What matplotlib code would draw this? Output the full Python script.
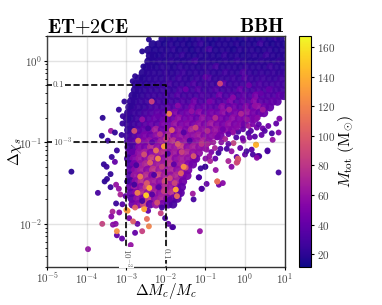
import numpy as np
import matplotlib
matplotlib.use('Agg')
import matplotlib.pyplot as plt

plt.rcParams['font.family'] = ['cmr10', 'DejaVu Serif']
plt.rcParams['mathtext.fontset'] = 'cm'
plt.rcParams['axes.formatter.use_mathtext'] = True
plt.rcParams['axes.unicode_minus'] = False

# values, log10 of dMc/Mc and dchi_s, Mtot in Msun
body_chi = [0.27, 0.20, 0.13, 0.06, -0.01, -0.08, -0.15, -0.22, -0.29, -0.36,
            -0.43, -0.50, -0.57, -0.64, -0.71, -0.78, -0.85, -0.92, -0.99, -1.06,
            -1.13, -1.20, -1.27, -1.34, -1.41, -1.48, -1.55, -1.62, -1.69, -1.76]
body_mc = [
    [-2.08, -1.93, -1.79, -1.62, -1.47, -1.33, -1.18, -1.02, -0.88, -0.72, -0.58, -0.43, -0.27, -0.13, 0.03, 0.17, 0.32, 0.47, 0.63, 0.78, 0.9],
    [-2.33, -2.18, -2.02, -1.87, -1.72, -1.56, -1.41, -1.26, -1.11, -0.95, -0.81, -0.66, -0.5, -0.34, -0.2, -0.05, 0.1, 0.25, 0.4, 0.56, 0.7, 0.85, 0.98],
    [-2.44, -2.27, -2.11, -1.96, -1.8, -1.66, -1.49, -1.34, -1.19, -1.04, -0.9, -0.73, -0.58, -0.42, -0.28, -0.12, 0.02, 0.18, 0.33, 0.48, 0.64, 0.79, 0.94],
    [-2.4, -2.3, -2.16, -2.03, -1.88, -1.73, -1.57, -1.43, -1.27, -1.12, -0.96, -0.82, -0.66, -0.5, -0.36, -0.21, -0.05, 0.09, 0.25, 0.41, 0.55, 0.71, 0.86, 0.99],
    [-2.44, -2.31, -2.17, -2.01, -1.86, -1.7, -1.55, -1.39, -1.25, -1.09, -0.94, -0.79, -0.64, -0.49, -0.33, -0.18, -0.03, 0.13, 0.27, 0.43, 0.58, 0.72, 0.88, 0.98],
    [-2.48, -2.38, -2.24, -2.09, -1.93, -1.79, -1.63, -1.48, -1.33, -1.17, -1.03, -0.87, -0.72, -0.57, -0.41, -0.26, -0.11, 0.04, 0.19, 0.35, 0.5, 0.65, 0.8, 0.95],
    [-2.58, -2.45, -2.31, -2.15, -2.0, -1.85, -1.7, -1.55, -1.4, -1.24, -1.09, -0.95, -0.79, -0.64, -0.48, -0.34, -0.18, -0.03, 0.12, 0.27, 0.42, 0.58, 0.73, 0.87, 0.99],
    [-2.68, -2.57, -2.41, -2.27, -2.11, -1.96, -1.81, -1.66, -1.5, -1.36, -1.2, -1.05, -0.9, -0.75, -0.6, -0.44, -0.29, -0.14, 0.01, 0.16, 0.31, 0.46, 0.62, 0.77, 0.92],
    [-2.76, -2.66, -2.5, -2.36, -2.2, -2.05, -1.9, -1.75, -1.59, -1.44, -1.29, -1.14, -0.99, -0.83, -0.68, -0.53, -0.38, -0.23, -0.07, 0.08, 0.23, 0.38, 0.53, 0.69, 0.84, 0.98],
    [-2.78, -2.68, -2.53, -2.39, -2.24, -2.08, -1.93, -1.78, -1.63, -1.48, -1.32, -1.17, -1.02, -0.87, -0.72, -0.56, -0.41, -0.26, -0.11, 0.04, 0.2, 0.35, 0.5, 0.65, 0.8, 0.93],
    [-2.84, -2.75, -2.6, -2.45, -2.3, -2.15, -2.0, -1.84, -1.69, -1.54, -1.39, -1.24, -1.08, -0.93, -0.78, -0.63, -0.48, -0.32, -0.17, -0.02, 0.13, 0.28, 0.44, 0.59, 0.74, 0.88, 0.98],
    [-2.88, -2.78, -2.63, -2.49, -2.33, -2.18, -2.03, -1.88, -1.72, -1.57, -1.42, -1.27, -1.12, -0.96, -0.81, -0.66, -0.51, -0.36, -0.2, -0.05, 0.1, 0.25, 0.4, 0.55, 0.7, 0.82],
    [-2.92, -2.84, -2.69, -2.54, -2.39, -2.24, -2.09, -1.93, -1.78, -1.63, -1.48, -1.33, -1.17, -1.02, -0.87, -0.72, -0.57, -0.41, -0.26, -0.11, 0.04, 0.19, 0.34, 0.5, 0.63],
    [-2.95, -2.82, -2.67, -2.52, -2.37, -2.21, -2.06, -1.91, -1.76, -1.61, -1.45, -1.3, -1.15, -1.0, -0.85, -0.69, -0.54, -0.39, -0.24, -0.09, 0.06, 0.22, 0.37, 0.48],
    [-2.98, -2.88, -2.73, -2.58, -2.43, -2.27, -2.12, -1.97, -1.82, -1.67, -1.51, -1.36, -1.21, -1.06, -0.91, -0.75, -0.6, -0.45, -0.3, -0.15, 0.0, 0.14, 0.25],
    [-2.96, -2.83, -2.68, -2.53, -2.38, -2.22, -2.07, -1.92, -1.77, -1.62, -1.46, -1.31, -1.16, -1.01, -0.86, -0.7, -0.55, -0.4, -0.25, -0.1, 0.0],
    [-2.95, -2.86, -2.71, -2.56, -2.41, -2.25, -2.1, -1.95, -1.8, -1.65, -1.49, -1.34, -1.19, -1.04, -0.89, -0.73, -0.58, -0.43, -0.32],
    [-2.97, -2.84, -2.69, -2.54, -2.39, -2.23, -2.08, -1.93, -1.78, -1.63, -1.47, -1.32, -1.17, -1.02, -0.87, -0.72, -0.62],
    [-2.95, -2.87, -2.72, -2.57, -2.42, -2.26, -2.11, -1.96, -1.81, -1.66, -1.5, -1.35, -1.2, -1.05, -0.92],
    [-2.94, -2.82, -2.67, -2.52, -2.37, -2.21, -2.06, -1.91, -1.76, -1.61, -1.45, -1.3, -1.15, -1.02],
    [-2.93, -2.83, -2.68, -2.53, -2.38, -2.22, -2.07, -1.92, -1.77, -1.62, -1.46, -1.31, -1.17],
    [-2.95, -2.81, -2.66, -2.51, -2.36, -2.2, -2.05, -1.9, -1.75, -1.6, -1.44, -1.29, -1.24],
    [-2.92, -2.8, -2.65, -2.5, -2.35, -2.19, -2.04, -1.89, -1.74, -1.59, -1.43, -1.32],
    [-2.9, -2.77, -2.62, -2.47, -2.32, -2.16, -2.01, -1.86, -1.71, -1.56, -1.44],
    [-2.91, -2.79, -2.64, -2.49, -2.34, -2.18, -2.03, -1.88, -1.73, -1.58, -1.46],
    [-2.89, -2.76, -2.61, -2.46, -2.31, -2.15, -2.0, -1.85, -1.7, -1.57],
    [-2.91, -2.78, -2.63, -2.48, -2.33, -2.17, -2.02, -1.87, -1.72, -1.6],
    [-2.88, -2.75, -2.6, -2.45, -2.3, -2.14, -1.99, -1.84, -1.69, -1.63],
    [-2.86, -2.72, -2.57, -2.42, -2.27, -2.11, -1.96, -1.81, -1.71],
    [-2.84, -2.7, -2.55, -2.4, -2.25, -2.09, -1.94, -1.82],
]
body_mt = [
    [18, 17, 19, 16, 18, 17, 22, 17, 19, 16, 18, 20, 17, 16, 22, 18, 17, 19, 16, 24, 18],
    [17, 18, 16, 20, 17, 19, 16, 18, 24, 17, 16, 19, 18, 17, 20, 16, 18, 17, 26, 18, 16, 19, 17],
    [18, 17, 19, 18, 22, 17, 18, 16, 20, 18, 28, 17, 19, 18, 16, 21, 18, 20, 17, 18, 21, 17, 19],
    [19, 18, 17, 20, 18, 19, 24, 18, 17, 20, 18, 19, 17, 24, 18, 20, 17, 19, 21, 18, 26, 20, 18, 19],
    [19, 18, 20, 18, 22, 19, 18, 20, 27, 18, 20, 19, 18, 21, 19, 24, 20, 18, 19, 22, 20, 19, 23, 20],
    [19, 20, 18, 22, 20, 19, 24, 20, 21, 19, 23, 22, 30, 20, 21, 22, 20, 24, 21, 22, 20, 27, 22, 21],
    [19, 20, 21, 20, 23, 20, 22, 26, 21, 23, 21, 25, 22, 21, 28, 23, 22, 33, 24, 21, 24, 22, 25, 22, 24],
    [20, 19, 21, 22, 21, 24, 22, 28, 23, 22, 26, 24, 32, 23, 25, 24, 28, 24, 35, 26, 24, 27, 25, 24, 28],
    [20, 21, 20, 22, 24, 23, 30, 24, 25, 24, 33, 25, 27, 26, 25, 38, 26, 28, 27, 29, 26, 32, 28, 27, 30, 28],
    [20, 21, 22, 24, 23, 26, 25, 24, 32, 26, 27, 36, 26, 28, 34, 27, 30, 28, 42, 30, 29, 33, 30, 36, 31, 30],
    [21, 20, 22, 24, 26, 25, 28, 27, 35, 27, 30, 28, 33, 30, 29, 45, 31, 35, 30, 38, 32, 48, 33, 35, 32, 40, 34],
    [21, 22, 24, 26, 24, 30, 27, 29, 28, 34, 30, 45, 32, 31, 40, 33, 36, 50, 34, 42, 36, 55, 38, 36, 40, 38],
    [22, 21, 25, 24, 28, 32, 30, 36, 33, 38, 34, 48, 36, 42, 38, 35, 55, 40, 46, 38, 52, 42, 60, 45, 40],
    [22, 25, 24, 30, 33, 38, 36, 42, 52, 40, 46, 38, 55, 42, 48, 45, 58, 40, 50, 46, 60, 48, 42, 45],
    [24, 22, 26, 32, 35, 42, 38, 48, 44, 58, 46, 50, 42, 60, 48, 52, 50, 44, 58, 50, 52, 46, 50],
    [23, 26, 28, 36, 42, 38, 50, 46, 62, 50, 54, 48, 58, 50, 65, 52, 48, 60, 50, 54, 45],
    [24, 25, 34, 40, 48, 68, 44, 56, 52, 60, 50, 72, 54, 58, 52, 62, 54, 56, 52],
    [26, 30, 38, 50, 45, 58, 54, 72, 52, 62, 56, 58, 66, 54, 56, 60, 48],
    [28, 34, 42, 52, 60, 48, 66, 58, 78, 56, 62, 52, 58, 70, 56],
    [30, 30, 52, 48, 75, 58, 56, 64, 62, 85, 56, 68, 58, 58],
    [35, 42, 58, 68, 52, 64, 75, 58, 66, 54, 72, 60, 58],
    [28, 52, 64, 56, 85, 62, 58, 72, 56, 66, 60, 54, 45],
    [30, 48, 60, 72, 58, 66, 64, 78, 60, 68, 54, 45],
    [38, 56, 68, 56, 80, 64, 60, 72, 58, 66, 50],
    [32, 62, 58, 75, 54, 88, 66, 60, 72, 56, 48],
    [30, 56, 78, 62, 66, 58, 92, 60, 68, 45],
    [42, 66, 58, 88, 62, 56, 74, 64, 54, 40],
    [40, 54, 74, 60, 68, 58, 66, 78, 50, 38],
    [36, 58, 48, 82, 58, 70, 56, 45, 35],
    [45, 54, 88, 40, 64, 48, 35, 30],
]

# single points around the edge of the cloud
edge_mc = [-4.39, -3.72, -3.97, -3.61, -2.89, -3.11, -3.24, -3.24, -3.34, -3.27, -2.78, -2.6, -2.43, -2.72, -2.48,
           -1.84, -1.94, -2.13, -2.02, 0.85, -1.14, -1.82, -1.3, -1.32, -1.1, -0.97, -0.66, -0.56, -0.7, -0.74,
           -1.0, -1.12, -1.17, -0.42, -0.19, -0.17, -0.34, -0.67, 0.57, 0.31, 0.36, 0.0, 0.2, -0.21,
           -2.43, -2.6, -2.57, -2.78, -2.84, -3.05, -3.19, -3.6, -3.62, -3.47, -3.39, -3.29, -3.12, -3.1, -3.09, -2.95,
           -3.24, -3.37, -3.57, -3.5, -3.29, -3.4, -3.55, -3.49, -3.4, -3.26, -3.19, -3.15, -2.98, -3.02, -3.26, -3.1,
           -3.35, -3.38, -3.18, -3.0, -2.93, -2.83,
           0.85, 0.70, 0.57, 0.28, 0.34, 0.3, 0.17, 0.04, -0.18, -0.21, -0.34, -0.46, -0.29, -0.04, 0.09, 0.42, 0.68,
           0.3, 0.59, 0.79, 0.87, -0.17, -0.06, -0.88, -0.76, -0.97, -1.16, -1.09, -1.01,
           -0.2, -0.05, 0.1, 0.2, 0.35, 0.45, 0.15, -0.3, -0.42, -0.5, -0.56, -0.6, -0.7, -0.8, -0.85, -0.62, -0.42, -0.22,
           -0.12, 0.12, 0.25, 0.5, -0.9, -1.0, -0.75, -0.95]
edge_chi = [-1.36, -1.62, -2.31, -2.0, -2.26, -2.18, -2.14, -2.09, -2.01, -2.0, -2.11, -2.09, -2.03, -2.0, -1.94,
            -2.04, -2.0, -1.87, -1.93, -1.37, -2.09, -2.04, -1.7, -1.63, -1.57, -1.51, -1.52, -1.5, -1.48, -1.34,
            -1.3, -1.32, -1.43, -1.23, -1.24, -1.21, -1.3, -1.13, -1.1, -1.17, -1.17, -1.15, -1.15, -1.18,
            0.26, 0.115, -0.07, -0.19, -0.25, -0.5, -0.6, -0.7, -0.92, -0.98, -0.86, -0.88, -0.91, -0.77, -0.68, -0.64,
            -1.1, -1.18, -1.27, -1.3, -1.24, -1.39, -1.48, -1.45, -1.55, -1.52, -1.57, -1.64, -1.48, -1.66, -1.75, -1.76,
            -1.85, -1.91, -1.86, -1.83, -1.93, -1.97,
            -0.88, -0.97, -1.11, -1.03, -1.17, -1.19, -1.09, -1.11, -1.2, -1.25, -1.11, -1.08, -1.01, -0.98, -0.89, -0.91, -0.89,
            -0.82, -0.8, -0.77, -0.71, -0.87, -0.95, -1.23, -1.07, -1.09, -1.43, -1.57, -1.3,
            -0.82, -0.84, -0.8, -0.78, -0.78, -0.83, -0.86, -0.88, -0.9, -0.96, -0.84, -1.0, -0.94, -1.0, -1.12, -1.08, -1.02, -0.94,
            -1.07, -0.94, -0.93, -0.86, -1.17, -1.2, -1.2, -1.02]
edge_mt = [20, 30, 60, 85, 60, 40, 40, 125, 55, 55, 40, 85, 120, 40, 110,
           40, 40, 85, 30, 30, 60, 30, 30, 65, 45, 40, 45, 55, 110, 60,
           25, 25, 35, 70, 100, 80, 55, 25, 30, 60, 30, 40, 30, 40,
           18, 18, 18, 20, 20, 22, 22, 20, 20, 25, 65, 22, 24, 24, 24, 24,
           24, 24, 22, 25, 40, 22, 20, 22, 25, 60, 60, 70, 25, 40, 25, 35,
           70, 55, 55, 130, 50, 100,
           50, 60, 30, 140, 30, 55, 35, 30, 100, 90, 60, 30, 85, 55, 30, 40, 30,
           45, 45, 40, 50, 30, 45, 70, 70, 60, 30, 30, 25,
           55, 40, 65, 50, 38, 45, 35, 60, 42, 70, 45, 55, 48, 65, 50, 35, 38, 32,
           40, 45, 35, 35, 60, 55, 40, 70]

# mottled spots on top of the cloud
spot_mc = [-1.5, -1.0, 0.1, -0.3, 0.4, -0.9, 0.6, 0.25, -0.4, -1.7, 0.45, -0.1, -1.35, -0.75, -2.6, 0.05, 0.32, -2.2,
           -2.8, -2.45, -2.15, -1.85, -1.55, -1.25, -0.95, -2.7, -2.35, -2.0, -1.7, -1.4, -1.1, -2.85, -2.55, -2.25,
           -1.95, -1.6, -1.3, -2.75, -2.4, -2.1, -1.8, -1.5, -2.65, -2.3, -1.9, -1.62, -2.8, -2.48, -2.18, -1.78,
           -2.72, -2.35, -2.05, -1.72, -2.6, -2.22, -1.9, -2.78, -2.45, -2.1]
spot_chi = [-0.35, -0.2, -0.3, -0.45, -0.4, -0.5, -0.35, -0.55, -0.6, -0.55, -0.6, -0.65, -0.62, -0.7, -0.72, -0.72, -0.7, -0.68,
            -0.86, -0.83, -0.9, -0.85, -0.88, -0.82, -0.86, -0.98, -1.0, -0.96, -1.02, -0.98, -1.02, -1.12, -1.15, -1.1,
            -1.14, -1.12, -1.17, -1.28, -1.25, -1.3, -1.27, -1.31, -1.42, -1.4, -1.44, -1.38, -1.52, -1.5, -1.55, -1.5,
            -1.62, -1.64, -1.6, -1.66, -1.72, -1.74, -1.7, -1.8, -1.84, -1.8]
spot_mt = [45, 38, 45, 55, 42, 50, 40, 60, 68, 55, 65, 72, 60, 75, 60, 62, 55, 42,
           95, 30, 80, 105, 35, 90, 75, 110, 38, 85, 100, 32, 80, 40, 95, 112, 35, 88, 100, 30, 105, 85, 38, 95,
           115, 32, 92, 105, 28, 100, 36, 90, 120, 35, 85, 110, 30, 95, 38, 105, 40, 30]

# bright points that stand out of the cloud
bright_mc = [-0.63, -2.36, -1.92, -2.05, -2.42, -2.5, -2.55, -2.97, 0.28, -0.7, -1.55, -2.2, -1.75]
bright_chi = [-0.28, -0.5, -0.65, -1.05, -1.56, -1.65, -1.82, -1.84, -1.03, -1.48, -1.3, -1.2, -1.58]
bright_mt = [88, 85, 115, 130, 135, 150, 135, 130, 140, 110, 125, 120, 135]

x_ticks = [1e-5, 1e-4, 1e-3, 1e-2, 1e-1, 1e0, 1e1]
y_ticks = [1e-2, 1e-1, 1e0]
cbar_ticks = [20, 40, 60, 80, 100, 120, 140, 160]
vmin, vmax = 11.8, 167.3

fig = plt.figure(figsize=(3.82, 3.05), dpi=100)
ax = fig.add_axes([47.3 / 382, 1 - 266.5 / 305, 237.2 / 382, 230.3 / 305])

for chi, mc, mt in zip(body_chi, body_mc, body_mt):
    ax.scatter(10.0 ** np.array(mc), [10.0 ** chi] * len(mc), c=mt, s=38, cmap='plasma', vmin=vmin, vmax=vmax,
               linewidths=0, alpha=0.95, zorder=2)
ax.scatter(10.0 ** np.array(edge_mc), 10.0 ** np.array(edge_chi), c=edge_mt, s=18, cmap='plasma', vmin=vmin, vmax=vmax,
           linewidths=0, alpha=0.95, zorder=2.1)
ax.scatter(10.0 ** np.array(spot_mc), 10.0 ** np.array(spot_chi), c=spot_mt, s=18, cmap='plasma', vmin=vmin, vmax=vmax,
           linewidths=0, alpha=0.95, zorder=2.15)
sc = ax.scatter(10.0 ** np.array(bright_mc), 10.0 ** np.array(bright_chi), c=bright_mt, s=18, cmap='plasma', vmin=vmin,
                vmax=vmax, linewidths=0, zorder=2.2)

ax.set_xscale('log')
ax.set_yscale('log')
ax.set_xlim(1e-5, 1e1)
ax.set_ylim(3.0e-3, 2.0)
ax.set_xticks(x_ticks)
ax.set_yticks(y_ticks)
ax.xaxis.set_minor_locator(matplotlib.ticker.NullLocator())
ax.grid(True, which='major', color='gray', alpha=0.22, lw=1, zorder=3)
ax.set_axisbelow(False)
ax.tick_params(axis='both', which='major', labelsize=8, length=2.5, width=0.8, labelcolor='#444444', pad=1)
ax.tick_params(axis='y', which='minor', length=1.5, width=0.6)
for s in ax.spines.values():
    s.set_color('#333333')
    s.set_linewidth(1.0)

# the dashed guides with their labels
ax.plot([1e-5, 1e-2, 1e-2], [0.507, 0.507, 3.0e-3], color='k', ls='--', lw=1.2, zorder=4)
ax.plot([1e-5, 1e-3, 1e-3], [0.1, 0.1, 3.0e-3], color='k', ls='--', lw=1.2, zorder=4)
box = dict(fc='white', ec='none', pad=0.6)
ax.text(1.95e-5, 0.507, '0.1', fontsize=6.5, color='#555555', ha='center', va='center', bbox=box, zorder=5)
ax.text(2.4e-5, 0.1, r'$10^{-3}$', fontsize=6.5, color='#555555', ha='center', va='center', bbox=box, zorder=5)
ax.text(1e-3, 3.9e-3, r'$10^{-3}$', fontsize=6.5, color='#555555', rotation=270, ha='center', va='center', bbox=box, zorder=5)
ax.text(1e-2, 4.3e-3, '0.1', fontsize=6.5, color='#555555', rotation=270, ha='center', va='center', bbox=box, zorder=5)

ax.set_xlabel(r'$\Delta M_c/M_c$', fontsize=11, va='center')
ax.xaxis.set_label_coords(0.5, -0.108)
ax.set_ylabel(r'$\Delta\chi_s$', fontsize=11, va='center')
ax.yaxis.set_label_coords(-0.136, 0.497)
ax.set_title(r'$\mathbf{ET{+}2CE}$', loc='left', fontsize=14.5, pad=2)
ax.set_title(r'$\mathbf{BBH}$', loc='right', fontsize=14.5, pad=2)

cax = fig.add_axes([299 / 382, 1 - 266.5 / 305, 11.7 / 382, 230.3 / 305])
cb = fig.colorbar(sc, cax=cax)
cb.set_ticks(cbar_ticks)
cb.ax.tick_params(labelsize=8, length=2.5, width=0.8, labelcolor='#444444', pad=2)
cb.set_label(r'$M_{\rm tot}\ ({\rm M}_{\odot})$', fontsize=11.5, labelpad=1)

fig.savefig('out.png', dpi=100)
